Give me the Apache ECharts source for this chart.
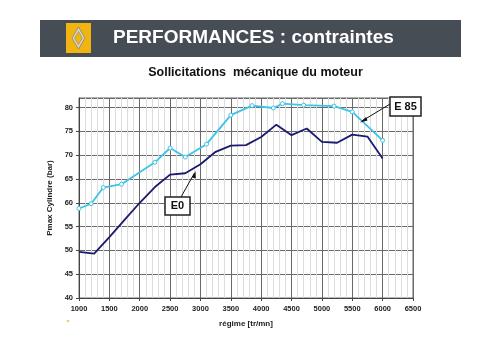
<!DOCTYPE html>
<html>
<head>
<meta charset="utf-8">
<script src="https://cdn.jsdelivr.net/npm/echarts@6/dist/echarts.min.js"></script>
<style>html,body{margin:0;padding:0;background:#fff;}#c{width:500px;height:355px;}</style>
</head>
<body>
<div id="c"></div>
<script>
// Data
const e0Rpm = [1000,1250,1500,1750,2000,2250,2500,2750,3000,3250,3500,3750,4000,4250,4500,4750,5000,5250,5500,5750,6000];
const e0Val = [49.7,49.3,52.8,56.4,60.0,63.3,65.9,66.2,68.1,70.7,72.0,72.1,73.8,76.4,74.2,75.6,72.8,72.6,74.3,73.9,69.3];
const e85Rpm = [1000,1200,1400,1700,2250,2500,2750,3100,3500,3850,4200,4350,4700,5200,5500,6000];
const e85Val = [58.8,59.8,63.2,63.9,68.5,71.5,69.6,72.3,78.4,80.4,79.9,80.8,80.5,80.3,79.1,73.1];
const titleText = 'PERFORMANCES : contraintes';
const subTitle = 'Sollicitations  mécanique du moteur';
const xName = 'régime [tr/mn]';
const yName = 'Pmax Cylindre (bar)';

const chart = echarts.init(document.getElementById('c'), null, {renderer:'canvas'});
const font = 'Liberation Sans, Arial, sans-serif';
const option = {
  animation: false,
  backgroundColor: '#fff',
  grid: {left: 79, right: 87, top: 98, bottom: 57, show: true, borderColor: '#666', borderWidth: 1},
  xAxis: {
    type: 'value', min: 1000, max: 6500, interval: 500,
    name: xName, nameLocation: 'middle', nameGap: 22,
    nameTextStyle: {fontFamily: font, fontSize: 8, fontWeight: 'bold', color: '#222'},
    axisLine: {show: true, lineStyle: {color: '#444'}},
    axisTick: {show: true, length: 3, lineStyle: {color: '#444'}},
    axisLabel: {fontFamily: font, fontSize: 7.5, fontWeight: 'bold', color: '#222', margin: 7, formatter: v => String(v)},
    splitLine: {show: true, lineStyle: {color: '#6a6a6a', width: 1}},
    minorTick: {show: false, splitNumber: 5},
    minorSplitLine: {show: true, lineStyle: {color: '#dddddd', width: 1}}
  },
  yAxis: {
    type: 'value', min: 40, max: 82, interval: 5,
    name: yName, nameLocation: 'middle', nameGap: 19, nameRotate: 90,
    nameTextStyle: {fontFamily: font, fontSize: 8, fontWeight: 'bold', color: '#222'},
    axisLine: {show: true, lineStyle: {color: '#444'}},
    axisTick: {show: true, length: 3, lineStyle: {color: '#444'}},
    axisLabel: {fontFamily: font, fontSize: 7.5, fontWeight: 'bold', color: '#222', margin: 6, showMaxLabel: false, formatter: v => String(v)},
    splitLine: {show: true, lineStyle: {color: '#6a6a6a', width: 1}},
    minorSplitLine: {show: false}
  },
  series: [
    {
      name: 'E0', type: 'line',
      data: e0Rpm.map((r, i) => [r, e0Val[i]]),
      showSymbol: false, symbol: 'none',
      lineStyle: {color: '#1a1a6e', width: 1.8},
      z: 3
    },
    {
      name: 'E 85', type: 'line',
      data: e85Rpm.map((r, i) => [r, e85Val[i]]),
      symbol: 'circle', symbolSize: 4,
      itemStyle: {color: '#ffffff', borderColor: '#3cc4e6', borderWidth: 1},
      lineStyle: {color: '#3cc4e6', width: 1.8},
      z: 4
    }
  ],
  graphic: {
    elements: [
      {type: 'rect', z: 100, shape: {x: 40, y: 20, width: 421, height: 37}, style: {fill: '#474d55'}},
      {type: 'rect', z: 101, shape: {x: 66, y: 23, width: 25, height: 30}, style: {fill: '#f2b411'}},
      {type: 'polygon', z: 102, shape: {points: [[78.5,27],[85,38],[78.5,49],[72,38]]}, style: {fill: '#d8d4c4', stroke: '#8a8470', lineWidth: 0.8}},
      {type: 'polygon', z: 103, shape: {points: [[78.5,31.5],[82.4,38],[78.5,44.5],[74.6,38]]}, style: {fill: '#f2b411', stroke: '#8a8470', lineWidth: 0.6}},
      {type: 'text', z: 102, x: 113, y: 38, style: {text: titleText, fill: '#ffffff', font: 'bold 19px ' + font, verticalAlign: 'middle', textVerticalAlign: 'middle'}},
      {type: 'text', z: 102, x: 255.5, y: 73, style: {text: subTitle, fill: '#111', font: 'bold 12.5px ' + font, align: 'center', verticalAlign: 'middle', textAlign: 'center', textVerticalAlign: 'middle'}},
      // E 85 annotation
      {type: 'line', z: 100, shape: {x1: 390, y1: 104, x2: 362, y2: 121}, style: {stroke: '#111', lineWidth: 1}},
      {type: 'polygon', z: 100, shape: {points: [[360,122.5],[366,117],[367.5,120.5]]}, style: {fill: '#111'}},
      {type: 'rect', z: 101, shape: {x: 390, y: 97, width: 31, height: 19}, style: {fill: '#fff', stroke: '#222', lineWidth: 1.5}},
      {type: 'text', z: 102, x: 405.5, y: 106.5, style: {text: 'E 85', fill: '#111', font: 'bold 11px ' + font, align: 'center', verticalAlign: 'middle', textAlign: 'center', textVerticalAlign: 'middle'}},
      // E0 annotation
      {type: 'line', z: 100, shape: {x1: 181, y1: 197, x2: 194.5, y2: 173}, style: {stroke: '#111', lineWidth: 1}},
      {type: 'polygon', z: 100, shape: {points: [[195.5,171],[192,177.5],[195.8,178.5]]}, style: {fill: '#111'}},
      {type: 'rect', z: 101, shape: {x: 165, y: 197, width: 25, height: 18}, style: {fill: '#fff', stroke: '#222', lineWidth: 1.5}},
      {type: 'text', z: 102, x: 177.5, y: 206, style: {text: 'E0', fill: '#111', font: 'bold 11px ' + font, align: 'center', verticalAlign: 'middle', textAlign: 'center', textVerticalAlign: 'middle'}},
      {type: 'circle', z: 100, shape: {cx: 68, cy: 321, r: 1.3}, style: {fill: '#f0d060'}}
    ]
  }
};
chart.setOption(option);
</script>
</body>
</html>
